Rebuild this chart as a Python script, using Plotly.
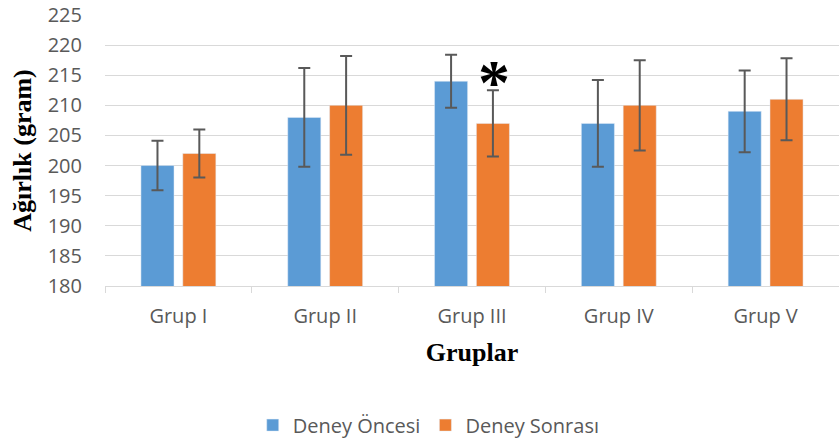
import plotly.graph_objects as go

groups = ["Grup I", "Grup II", "Grup III", "Grup IV", "Grup V"]
before = [200, 208, 214, 207, 209]
before_err = [4.1, 8.2, 4.4, 7.2, 6.8]
after = [202, 210, 207, 210, 211]
after_err = [4.0, 8.2, 5.5, 7.5, 6.8]

tick_font = dict(family="Open Sans, Noto Sans, sans-serif", size=20, color="#595959")
title_font = dict(family="Liberation Serif, Times New Roman, serif", size=26, color="black")
err_style = dict(type="data", thickness=2, width=6, color="#595959")

fig = go.Figure()
fig.add_trace(go.Bar(
    x=groups, y=before, name="Deney Öncesi",
    marker=dict(color="#5B9BD5"),
    error_y=dict(array=before_err, **err_style),
))
fig.add_trace(go.Bar(
    x=groups, y=after, name="Deney Sonrası",
    marker=dict(color="#ED7D31"),
    error_y=dict(array=after_err, **err_style),
))

# significance marker over Grup III post-experiment bar
fig.add_annotation(
    x="Grup III", y=215.2, xshift=22, yshift=-8, text="<b>*</b>", showarrow=False,
    font=dict(family="Liberation Serif, Times New Roman, serif", size=64, color="black"),
    yanchor="middle",
)

fig.update_layout(
    width=839, height=441,
    margin=dict(l=105, r=0, t=15, b=155),
    plot_bgcolor="white", paper_bgcolor="white",
    barmode="group", bargap=0.43, bargroupgap=0.21,
    showlegend=True,
    legend=dict(orientation="h", xref="container", yref="container",
                x=0.511, y=0.036, xanchor="center", yanchor="middle",
                font=tick_font, itemwidth=30, traceorder="normal"),
    xaxis=dict(
        title=dict(text="<b>Gruplar</b>", font=title_font, standoff=14),
        tickfont=tick_font, showgrid=False,
        showline=True, linecolor="#d9d9d9", linewidth=1,
        ticks="outside", tickson="boundaries", ticklen=6, tickcolor="#d9d9d9",
        ticklabelstandoff=12,
    ),
    yaxis=dict(
        title=dict(text="<b>Ağırlık (gram)</b>", font=title_font, standoff=8),
        tickfont=tick_font, range=[180, 225], dtick=5, tick0=180,
        showgrid=True, gridcolor="#d9d9d9", gridwidth=1,
        zeroline=False, showline=False, ticks="", ticklabelstandoff=22,
    ),
)

fig.write_html("out.html")
